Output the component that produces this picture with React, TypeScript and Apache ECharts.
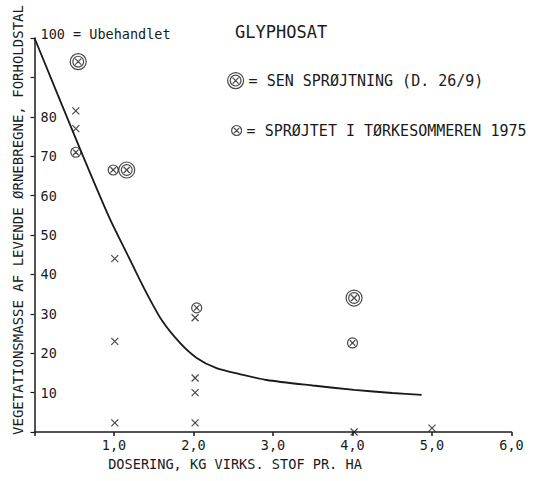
import React, { useEffect, useRef } from "react";
import * as echarts from "echarts";

// Curve (fitted response line)
const curveDose = [0, 0.57, 0.95, 1.16, 1.37, 1.6, 1.83, 2.04, 2.29, 2.58, 2.92, 3.5, 4.02, 4.5, 4.87];
const curveValue = [100, 72, 54, 45.4, 36.8, 28.4, 22.6, 18.8, 16.2, 14.7, 13.2, 11.8, 10.7, 9.9, 9.4];

// Ordinary spraying (crosses)
const crossDose = [0.52, 0.52, 1.01, 1.01, 1.01, 2.02, 2.02, 2.02, 2.02, 4.02, 5.0];
const crossValue = [81.5, 77, 44, 23, 2.3, 29, 13.7, 10, 2.3, 0, 1];

// Late spraying (double circle)
const lateDose = [0.55, 1.16, 4.02];
const lateValue = [94, 66.5, 34];

// Sprayed in drought summer 1975 (circle with cross)
const droughtDose = [0.52, 0.99, 2.04, 4.0];
const droughtValue = [71, 66.5, 31.5, 22.6];

const xTicks = [0, 1, 2, 3, 4, 5, 6];
const yTicks = [0, 10, 20, 30, 40, 50, 60, 70, 80, 90, 100];

const LATE_NAME = "SEN SPRØJTNING (D. 26/9)";
const DROUGHT_NAME = "SPRØJTET I TØRKESOMMEREN 1975";
const TITLE = "GLYPHOSAT";
const Y_NAME = "VEGETATIONSMASSE AF LEVENDE ØRNEBREGNE, FORHOLDSTAL";
const X_NAME = "DOSERING, KG VIRKS. STOF PR. HA";
const TOP_LABEL = "100 = Ubehandlet";

const FONT = "DejaVu Sans Mono";
const INK = "#1a1a1a";

const crossPath = "path://M0,0L10,10M10,0L0,10";
const smallPath =
  "path://M0,5A5,5 0 1,0 10,5A5,5 0 1,0 0,5ZM2.3,2.3L7.7,7.7M7.7,2.3L2.3,7.7";
const largePath =
  "path://M0,8A8,8 0 1,0 16,8A8,8 0 1,0 0,8ZM2.6,8A5.4,5.4 0 1,0 13.4,8A5.4,5.4 0 1,0 2.6,8ZM5,5L11,11M11,5L5,11";

const zip = (a: number[], b: number[]) => a.map((v, i) => [v, b[i]]);

export default function App() {
  const ref = useRef<HTMLDivElement>(null);
  useEffect(() => {
    if (!ref.current) return;
    const chart = echarts.init(ref.current, null, { renderer: "svg" });
    const symStyle = { color: "rgba(0,0,0,0)", borderColor: INK, borderWidth: 1.2 };
    chart.setOption({
      animation: false,
      backgroundColor: "#ffffff",
      title: {
        text: TITLE,
        left: 235,
        top: 23,
        padding: 0,
        textStyle: { fontFamily: FONT, fontSize: 17, fontWeight: "normal", color: INK },
      },
      legend: [
        {
          data: [{ name: LATE_NAME, icon: largePath }],
          left: 227,
          top: 72,
          padding: 0,
          itemWidth: 16,
          itemHeight: 16,
          formatter: "= {name}",
          itemStyle: symStyle,
          textStyle: { fontFamily: FONT, fontSize: 15, color: INK },
          selectedMode: false,
        },
        {
          data: [{ name: DROUGHT_NAME, icon: smallPath }],
          left: 231,
          top: 123,
          padding: 0,
          itemWidth: 10,
          itemHeight: 10,
          formatter: "= {name}",
          itemStyle: symStyle,
          textStyle: { fontFamily: FONT, fontSize: 15, color: INK },
          selectedMode: false,
        },
      ],
      grid: { left: 34.5, right: 24.5, top: 38, bottom: 49 },
      xAxis: {
        type: "value",
        min: xTicks[0],
        max: xTicks[xTicks.length - 1],
        interval: 1,
        splitLine: { show: false },
        axisLine: { lineStyle: { color: INK, width: 1.5 } },
        axisTick: { lineStyle: { color: INK, width: 1.5 }, length: 4 },
        axisLabel: {
          margin: 6,
          fontFamily: FONT,
          fontSize: 13.5,
          color: INK,
          formatter: (v: number) => (v === 0 ? "" : v.toFixed(1).replace(".", ",")),
        },
      },
      yAxis: {
        type: "value",
        min: yTicks[0],
        max: yTicks[yTicks.length - 1],
        interval: 10,
        splitLine: { show: false },
        axisLine: { lineStyle: { color: INK, width: 1.5 } },
        axisTick: { lineStyle: { color: INK, width: 1.2 }, length: 4 },
        axisLabel: {
          inside: true,
          margin: 6,
          fontFamily: FONT,
          fontSize: 13.5,
          color: INK,
          formatter: (v: number) =>
            v === 100 ? `{t|${TOP_LABEL}}` : v === 90 || v === 0 ? "" : String(v),
          rich: {
            t: { fontFamily: FONT, fontSize: 13.5, color: INK, padding: [0, 0, 9, 0] },
          },
        },
      },
      graphic: [
        {
          type: "text",
          x: 18,
          y: 220,
          rotation: Math.PI / 2,
          style: {
            text: Y_NAME,
            align: "center",
            verticalAlign: "middle",
            font: `14px "${FONT}"`,
            fill: INK,
          },
        },
        {
          type: "text",
          x: 235,
          y: 464,
          style: {
            text: X_NAME,
            align: "center",
            verticalAlign: "middle",
            font: `13.6px "${FONT}"`,
            fill: INK,
          },
        },
      ],
      series: [
        {
          name: "curve",
          type: "line",
          data: zip(curveDose, curveValue),
          smooth: 0.25,
          showSymbol: false,
          lineStyle: { color: INK, width: 1.8 },
        },
        {
          name: "cross",
          type: "scatter",
          clip: false,
          data: zip(crossDose, crossValue),
          symbol: crossPath,
          symbolSize: 7,
          itemStyle: symStyle,
        },
        {
          name: LATE_NAME,
          type: "scatter",
          clip: false,
          data: zip(lateDose, lateValue),
          symbol: largePath,
          symbolSize: 16,
          itemStyle: symStyle,
        },
        {
          name: DROUGHT_NAME,
          type: "scatter",
          clip: false,
          data: zip(droughtDose, droughtValue),
          symbol: smallPath,
          symbolSize: 10,
          itemStyle: symStyle,
        },
      ],
    });
    return () => chart.dispose();
  }, []);
  return (
    <div
      ref={ref}
      style={{ position: "absolute", left: 0, top: 0, width: 536, height: 481 }}
    />
  );
}
